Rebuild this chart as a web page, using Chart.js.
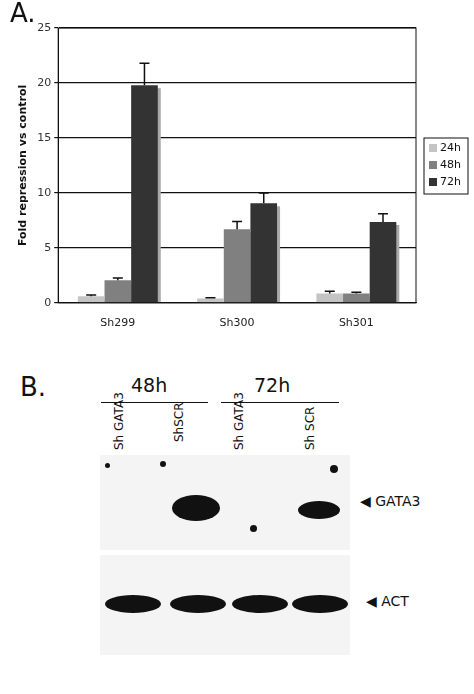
<!DOCTYPE html>
<html><head><meta charset="utf-8">
<script src="https://cdn.jsdelivr.net/npm/chart.js@4/dist/chart.umd.min.js"></script>
<style>
body{margin:0;background:#fff;font-family:"DejaVu Sans",sans-serif;}
#wrap{position:relative;width:474px;height:694px;}
#chartBox{position:absolute;left:0;top:0;width:474px;height:336px;}
.lbl{position:absolute;color:#111;}
.blot{position:absolute;left:100px;width:250px;background:#f4f4f4;}
.spot{position:absolute;border-radius:50%;background:#111;}
</style></head>
<body><div id="wrap">
<div id="chartBox"><canvas id="c"></canvas></div>
<div class="lbl" style="left:10px;top:-2px;font-size:26px;">A.</div>
<div class="lbl" style="left:20px;top:372px;font-size:26px;">B.</div>
<div class="lbl" style="left:131px;top:374px;font-size:19px;">48h</div>
<div class="lbl" style="left:254px;top:374px;font-size:19px;">72h</div>
<div style="position:absolute;left:101px;top:402px;width:107px;border-top:1.5px solid #111"></div>
<div style="position:absolute;left:221px;top:402px;width:118px;border-top:1.5px solid #111"></div>
<div class="lbl" style="left:112px;top:450px;font-size:12px;transform:rotate(-90deg);transform-origin:0 0;white-space:nowrap">Sh GATA3</div>
<div class="lbl" style="left:172px;top:442px;font-size:12px;transform:rotate(-90deg);transform-origin:0 0;white-space:nowrap">ShSCR</div>
<div class="lbl" style="left:232px;top:450px;font-size:12px;transform:rotate(-90deg);transform-origin:0 0;white-space:nowrap">Sh GATA3</div>
<div class="lbl" style="left:303px;top:450px;font-size:12px;transform:rotate(-90deg);transform-origin:0 0;white-space:nowrap">Sh SCR</div>
<div class="blot" style="top:455px;height:95px;">
  <div class="spot" style="left:72px;top:40px;width:48px;height:26px;"></div>
  <div class="spot" style="left:198px;top:46px;width:42px;height:18px;"></div>
  <div class="spot" style="left:5px;top:8px;width:5px;height:5px;"></div>
  <div class="spot" style="left:60px;top:6px;width:6px;height:6px;"></div>
  <div class="spot" style="left:150px;top:70px;width:7px;height:7px;"></div>
  <div class="spot" style="left:230px;top:10px;width:8px;height:8px;"></div>
</div>
<div class="blot" style="top:555px;height:100px;">
  <div class="spot" style="left:5px;top:40px;width:56px;height:18px;"></div>
  <div class="spot" style="left:70px;top:40px;width:56px;height:18px;"></div>
  <div class="spot" style="left:132px;top:40px;width:56px;height:18px;"></div>
  <div class="spot" style="left:192px;top:40px;width:56px;height:18px;"></div>
</div>
<div class="lbl" style="left:360px;top:493px;font-size:14px;">&#9664; GATA3</div>
<div class="lbl" style="left:366px;top:593px;font-size:14px;">&#9664; ACT</div>
</div>
<script>
const categories = ["Sh299", "Sh300", "Sh301"];
const seriesNames = ["24h", "48h", "72h"];
const values24 = [0.6, 0.4, 0.85];
const values48 = [2.05, 6.7, 0.85];
const values72 = [19.8, 9.05, 7.35];
const err24 = [0.12, 0.06, 0.2];
const err48 = [0.2, 0.7, 0.1];
const err72 = [2.0, 0.95, 0.75];
const colors = ["#c4c4c4", "#808080", "#333333"];

const errorBars = {
  id: "errorBars",
  afterDatasetsDraw(chart) {
    const ctx = chart.ctx, y = chart.scales.y;
    ctx.save();
    ctx.strokeStyle = "#111";
    ctx.lineWidth = 1.5;
    chart.data.datasets.forEach((ds, i) => {
      chart.getDatasetMeta(i).data.forEach((bar, j) => {
        const top = y.getPixelForValue(ds.data[j] + ds.err[j]);
        ctx.beginPath();
        ctx.moveTo(bar.x, bar.y);
        ctx.lineTo(bar.x, top);
        ctx.moveTo(bar.x - 5, top);
        ctx.lineTo(bar.x + 5, top);
        ctx.stroke();
      });
    });
    // legend box
    const lx = 424, ly = 138;
    ctx.fillStyle = "#fff";
    ctx.strokeStyle = "#111";
    ctx.lineWidth = 1;
    ctx.fillRect(lx, ly, 44, 56);
    ctx.strokeRect(lx, ly, 44, 56);
    ctx.font = "11px 'DejaVu Sans'";
    ctx.textBaseline = "middle";
    seriesNames.forEach((n, i) => {
      ctx.fillStyle = colors[i];
      ctx.fillRect(lx + 5, ly + 6 + i * 17, 8, 8);
      ctx.fillStyle = "#111";
      ctx.fillText(n, lx + 16, ly + 10 + i * 17);
    });
    // frame
    const a = chart.chartArea;
    ctx.strokeRect(a.left, a.top, a.right - a.left, a.bottom - a.top);
    ctx.restore();
  }
};

const shadow = {
  id: "shadow",
  beforeDatasetsDraw(chart) {
    const ctx = chart.ctx;
    ctx.save();
    ctx.fillStyle = "#aaa";
    chart.data.datasets.forEach((ds, i) => {
      chart.getDatasetMeta(i).data.forEach(bar => {
        ctx.fillRect(bar.x - bar.width / 2 + 3, bar.y + 3, bar.width, bar.base - bar.y - 3);
      });
    });
    ctx.restore();
  }
};

new Chart(document.getElementById("c"), {
  type: "bar",
  data: {
    labels: categories,
    datasets: [
      { label: seriesNames[0], data: values24, err: err24, backgroundColor: colors[0] },
      { label: seriesNames[1], data: values48, err: err48, backgroundColor: colors[1] },
      { label: seriesNames[2], data: values72, err: err72, backgroundColor: colors[2] }
    ]
  },
  options: {
    responsive: true,
    maintainAspectRatio: false,
    animation: false,
    layout: { padding: { top: 28, right: 58, left: 13, bottom: 0 } },
    datasets: { bar: { barPercentage: 1, categoryPercentage: 0.67 } },
    scales: {
      y: {
        min: 0, max: 25,
        ticks: { stepSize: 5, color: "#333", font: { size: 11, family: "DejaVu Sans" } },
        title: { display: true, text: "Fold repression vs control", color: "#111",
          font: { size: 11, weight: "bold", family: "DejaVu Sans" } },
        grid: { color: "#111", lineWidth: 1.2, drawTicks: true, tickLength: 4 },
        border: { color: "#111" }
      },
      x: {
        ticks: { color: "#222", padding: 6, font: { size: 11, family: "DejaVu Sans" } },
        grid: { display: false },
        border: { color: "#111" }
      }
    },
    plugins: { legend: { display: false }, tooltip: { enabled: false } }
  },
  plugins: [shadow, errorBars]
});
</script>
</body></html>
